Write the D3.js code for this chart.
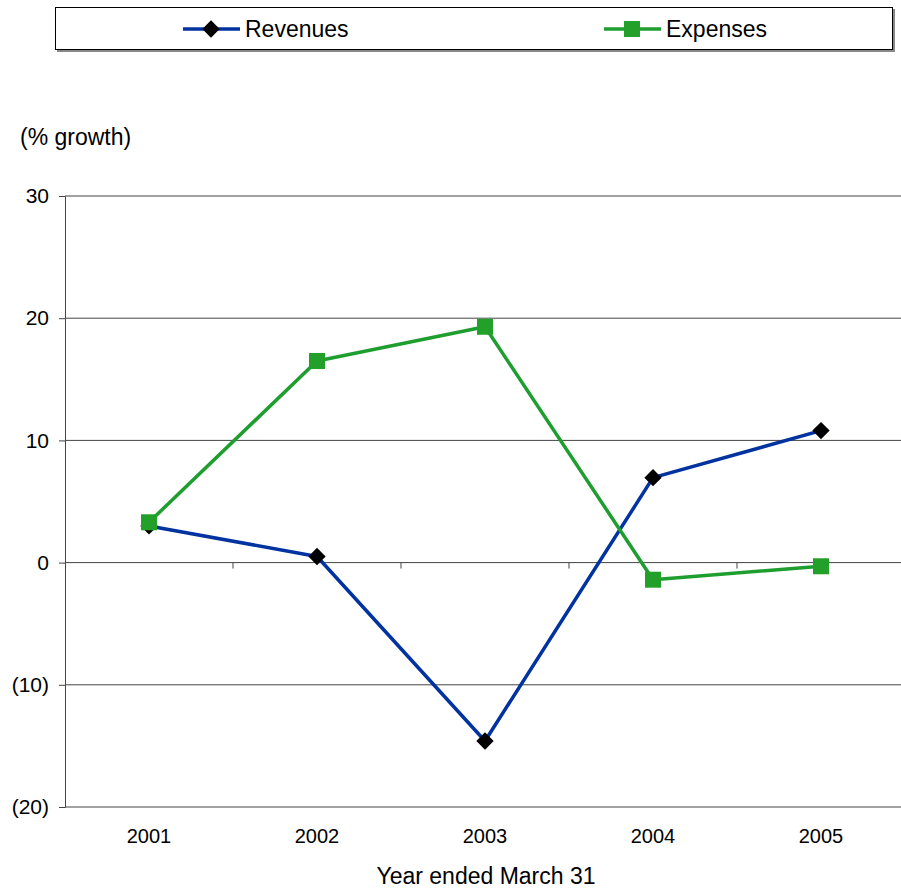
<!DOCTYPE html>
<html>
<head>
<meta charset="utf-8">
<script src="https://cdnjs.cloudflare.com/ajax/libs/d3/7.8.5/d3.min.js"></script>
<style>
  html, body { margin: 0; padding: 0; background: #fff; }
  svg { display: block; font-family: "Liberation Sans", Arial, sans-serif; }
</style>
</head>
<body>
<svg id="chart" width="901" height="889"></svg>
<script>
// Annual growth, % (year ended March 31)
const years = ["2001", "2002", "2003", "2004", "2005"];
const revenues = [3.0, 0.5, -14.6, 6.95, 10.8];
const expenses = [3.3, 16.5, 19.3, -1.4, -0.3];
const yTicks = [-20, -10, 0, 10, 20, 30];
const seriesNames = ["Revenues", "Expenses"];

const svg = d3.select("#chart");
const plot = { left: 65, right: 905, top: 196, bottom: 807 };

const x = d3.scaleBand().domain(years).range([plot.left, plot.right]).padding(0);
const y = d3.scaleLinear().domain([-20, 30]).range([plot.bottom, plot.top]);

const fmt = v => v < 0 ? `(${Math.abs(v)})` : `${v}`;

// horizontal gridlines
svg.append("g")
  .selectAll("line")
  .data(yTicks)
  .join("line")
  .attr("x1", plot.left).attr("x2", plot.right)
  .attr("y1", d => y(d)).attr("y2", d => y(d))
  .attr("stroke", "#444").attr("stroke-width", 1);

// y axis
const yAxis = svg.append("g")
  .attr("transform", `translate(${plot.left},0)`)
  .call(d3.axisLeft(y).tickValues(yTicks).tickFormat(fmt).tickSize(6).tickPadding(10));
yAxis.select(".domain").attr("stroke", "#444");
yAxis.selectAll(".tick line").attr("stroke", "#444");
yAxis.selectAll("text").attr("font-size", 21).attr("fill", "#000")
  .attr("font-family", "Liberation Sans, Arial, sans-serif");

// category axis along the zero line, ticks between categories
const zeroAxis = svg.append("g")
  .attr("transform", `translate(0,${y(0)})`);
zeroAxis.selectAll("line")
  .data(years.slice(1))
  .join("line")
  .attr("x1", d => x(d)).attr("x2", d => x(d))
  .attr("y1", 0).attr("y2", 6)
  .attr("stroke", "#444");

// category labels below the plot
svg.append("g")
  .selectAll("text")
  .data(years)
  .join("text")
  .attr("x", d => x(d) + x.bandwidth() / 2)
  .attr("y", 843)
  .attr("text-anchor", "middle")
  .attr("font-size", 20)
  .text(d => d);

// axis titles
svg.append("text")
  .attr("x", 20).attr("y", 145)
  .attr("font-size", 23)
  .text("(% growth)");

svg.append("text")
  .attr("x", 486).attr("y", 884)
  .attr("text-anchor", "middle")
  .attr("font-size", 23)
  .text("Year ended March 31");

const cx = d => x(d) + x.bandwidth() / 2;
const line = d3.line().x(d => cx(d.year)).y(d => y(d.value));

const revData = years.map((yr, i) => ({ year: yr, value: revenues[i] }));
const expData = years.map((yr, i) => ({ year: yr, value: expenses[i] }));

const blue = "#0033a0";
const green = "#1f9e30";
const markerGreen = "#22a02a";
const diamond = d3.symbol(d3.symbolSquare, 150)();

// revenues line + diamonds
svg.append("path").datum(revData)
  .attr("d", line).attr("fill", "none")
  .attr("stroke", blue).attr("stroke-width", 3.5).attr("stroke-linejoin", "round");
svg.append("g").selectAll("path")
  .data(revData)
  .join("path")
  .attr("d", diamond)
  .attr("transform", d => `translate(${cx(d.year)},${y(d.value)}) rotate(45)`)
  .attr("fill", "#000");

// expenses line + squares
svg.append("path").datum(expData)
  .attr("d", line).attr("fill", "none")
  .attr("stroke", green).attr("stroke-width", 3.5).attr("stroke-linejoin", "round");
svg.append("g").selectAll("rect")
  .data(expData)
  .join("rect")
  .attr("x", d => cx(d.year) - 8).attr("y", d => y(d.value) - 8)
  .attr("width", 16).attr("height", 16)
  .attr("fill", markerGreen);

// legend
const legend = svg.append("g");
legend.append("rect")
  .attr("x", 57).attr("y", 9).attr("width", 838).attr("height", 43)
  .attr("fill", "#888");
legend.append("rect")
  .attr("x", 55.5).attr("y", 7.5).attr("width", 837).attr("height", 42)
  .attr("fill", "#fff").attr("stroke", "#000").attr("stroke-width", 1);

const legendItems = [
  { name: seriesNames[0], x0: 183, color: blue, marker: "diamond" },
  { name: seriesNames[1], x0: 604, color: green, marker: "square" }
];
const ly = 29;
legendItems.forEach(it => {
  legend.append("line")
    .attr("x1", it.x0).attr("x2", it.x0 + 57)
    .attr("y1", ly).attr("y2", ly)
    .attr("stroke", it.color).attr("stroke-width", 3.5);
  if (it.marker === "diamond") {
    legend.append("path")
      .attr("d", diamond)
      .attr("transform", `translate(${it.x0 + 28},${ly}) rotate(45)`)
      .attr("fill", "#000");
  } else {
    legend.append("rect")
      .attr("x", it.x0 + 28 - 8).attr("y", ly - 8)
      .attr("width", 16).attr("height", 16)
      .attr("fill", markerGreen);
  }
  legend.append("text")
    .attr("x", it.x0 + 62).attr("y", ly + 8)
    .attr("font-size", 23)
    .text(it.name);
});
</script>
</body>
</html>
